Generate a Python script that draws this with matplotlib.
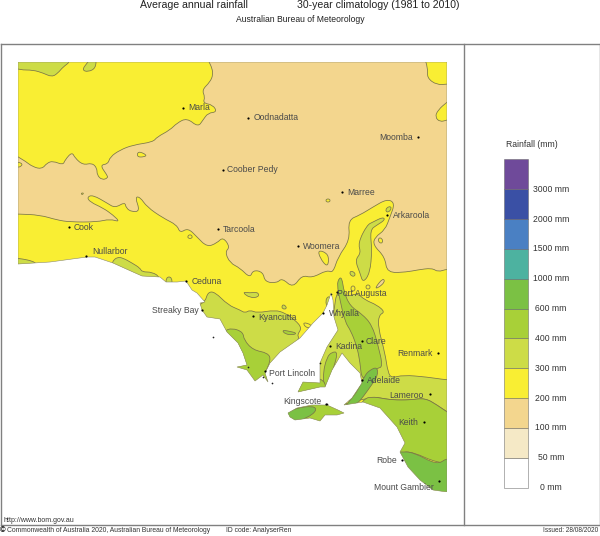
import matplotlib
matplotlib.use("Agg")
import matplotlib.pyplot as plt
from matplotlib.lines import Line2D
from matplotlib.patches import PathPatch
from matplotlib.path import Path

plt.rcParams['font.family'] = ['Liberation Sans', 'DejaVu Sans']

W, H = 600, 536

# Rainfall classes, bottom to top of the legend
class_labels = ['0 mm', '50 mm', '100 mm', '200 mm', '300 mm', '400 mm',
                '600 mm', '1000 mm', '1500 mm', '2000 mm', '3000 mm']
class_colors = ['#ffffff', '#f5e9c6', '#f3d68e', '#f9ee33', '#cddc47', '#a8d038',
                '#7bc144', '#4db2a0', '#4a80c3', '#3a50a5', '#6f4a9a']
TAN, YELLOW, LIGHT, MEDIUM, DARK = class_colors[2:7]

# Outlines below are map grid positions (x east, y south)
mainland = [(18, 264), (50, 262), (87, 257), (95, 257), (113, 263), (133, 272), (142, 276),
            (160, 277), (166, 282), (177, 282), (186, 281), (192, 290), (197, 293), (205, 302),
            (200, 303), (202, 310), (207, 317), (220, 319), (227, 332), (238, 343), (243, 353),
            (247, 365), (237, 367), (247, 370), (255, 381), (263, 375), (268, 382), (265, 373),
            (270, 363), (280, 352), (300, 338), (313, 323), (323, 313), (327, 305), (331, 293),
            (333, 300), (334, 317), (338, 330), (327, 347), (320, 363), (320, 383), (303, 382),
            (298, 392), (320, 387), (325, 387), (332, 370), (342, 353), (350, 363), (360, 373),
            (362, 383), (352, 398), (344, 405), (363, 402), (380, 408), (397, 427), (405, 443),
            (400, 452), (408, 467), (420, 480), (433, 490), (447, 492), (447, 62), (18, 62)]
kangaroo_island = [(288, 413), (297, 408), (312, 405), (327, 405), (338, 410), (344, 413),
                   (337, 415), (325, 415), (320, 421), (310, 418), (295, 420), (290, 417)]
speck_x = [213, 272, 263, 248, 331, 320, 327]
speck_y = [337, 383, 377, 367, 294, 363, 404]

# Contours run past the map edge where they leave it, the land clips them
tan_main = [(205, 52), (209, 62), (212, 68), (213, 75), (210, 82), (202, 90), (205, 97), (203, 103),
            (213, 105), (217, 112), (208, 113), (203, 120), (198, 127), (187, 118), (177, 123),
            (170, 130), (157, 137), (153, 142), (133, 145), (120, 150), (110, 157), (108, 164),
            (100, 165), (107, 175), (108, 178), (102, 180), (97, 175), (97, 168), (92, 163),
            (83, 165), (75, 158), (72, 152), (65, 160), (63, 165), (53, 161), (47, 163),
            (42, 169), (33, 167), (25, 161), (18, 157), (8, 150), (8, 214), (18, 214), (40, 215), (57, 220),
            (70, 222), (97, 222), (110, 219), (120, 222), (113, 215), (103, 208), (90, 202),
            (87, 197), (93, 195), (107, 203), (115, 208), (125, 202), (126, 208), (132, 212),
            (140, 211), (135, 197), (140, 197), (147, 207), (163, 218), (177, 225), (180, 233),
            (188, 228), (197, 237), (207, 247), (217, 243), (223, 237), (230, 247), (225, 252),
            (230, 263), (240, 268), (250, 278), (253, 270), (263, 272), (265, 282), (277, 283),
            (282, 278), (293, 288), (302, 275), (312, 278), (327, 270), (333, 273), (338, 257),
            (350, 240), (348, 220), (360, 215), (373, 207), (387, 199), (395, 203), (390, 217),
            (385, 230), (375, 237), (373, 245), (385, 257), (387, 273), (407, 272), (417, 270),
            (432, 268), (438, 272), (447, 269), (458, 269), (458, 56), (458, 52), (452, 52), (300, 52)]
tan_patch = [(375, 288), (383, 278), (385, 282), (378, 288)]

yellow_ne = [(423, 54), (428, 68), (427, 78), (437, 85), (447, 84), (458, 84), (458, 54)]
yellow_east = [(456, 96), (447, 102), (438, 110), (435, 117), (440, 122), (447, 120), (456, 118)]
yellow_a = [(137, 157), (138, 151), (147, 155), (144, 157)]
yellow_b = [(10, 162), (18, 162), (23, 164), (20, 167), (18, 167), (10, 168)]
yellow_c = [(81, 193), (84, 193), (82, 195)]
yellow_d = [(187, 237), (190, 234), (193, 237), (190, 239)]
yellow_e = [(318, 250), (327, 253), (329, 260), (327, 267), (320, 258)]
yellow_f = [(326, 199), (330, 199), (330, 202), (326, 202)]
yellow_g = [(378, 238), (382, 238), (383, 243), (379, 243)]

light_nw = [(8, 52), (72, 52), (70, 62), (63, 67), (58, 73), (52, 77), (43, 73), (33, 70), (20, 70), (8, 66)]
light_n = [(82, 70), (87, 63), (93, 56), (96, 56), (96, 68), (88, 72)]
light_bight = [(112, 262), (117, 257), (123, 258), (132, 263), (140, 268), (142, 272), (152, 272),
               (160, 277), (160, 288), (110, 272)]
light_w = [(8, 258), (18, 258), (37, 262), (37, 270), (8, 270)]
light_ceduna = [(166, 277), (172, 277), (172, 287), (166, 287)]
light_eyre = [(205, 302), (208, 292), (215, 292), (228, 305), (240, 310), (245, 313), (250, 310),
              (257, 313), (275, 310), (285, 313), (295, 320), (302, 328), (297, 335), (300, 339),
              (270, 385), (200, 340), (198, 305)]
light_lens = [(242, 292), (250, 293), (258, 292), (259, 297), (250, 298)]
light_spot = [(282, 305), (285, 305), (287, 309), (282, 309)]
light_gulf_w = [(325, 300), (330, 295), (332, 307), (328, 310)]
light_flinders = [(373, 222), (383, 217), (385, 220), (377, 225), (370, 230), (372, 250), (370, 273),
                  (363, 283), (360, 273), (355, 260), (361, 253), (358, 243), (367, 225)]
light_arkaroola = [(385, 210), (389, 206), (392, 208), (388, 213)]
light_circle = [(349, 272), (353, 271), (356, 275), (352, 277)]
light_south = [(337, 290), (347, 297), (357, 293), (365, 300), (377, 305), (385, 312), (379, 315),
               (378, 327), (385, 353), (388, 373), (392, 378), (403, 375), (427, 377), (447, 380), (458, 380),
               (458, 418), (447, 412), (437, 405), (425, 398), (410, 400), (393, 400), (380, 398), (375, 397),
               (350, 402), (340, 398), (293, 396), (295, 380), (318, 350), (332, 325), (334, 310)]

yellow_hole = [(303, 322), (312, 325), (310, 328), (305, 327)]
yellow_circle = [(351, 286), (355, 286), (355, 291), (351, 291)]
yellow_circle2 = [(366, 285), (370, 285), (370, 289), (366, 289)]

medium_lens = [(282, 330), (288, 331), (297, 333), (293, 335), (285, 334)]
medium_eyre = [(224, 331), (232, 328), (243, 332), (244, 340), (253, 350), (268, 353), (271, 360),
               (264, 375), (275, 395), (245, 392), (225, 365), (215, 345)]
medium_north = [(339, 278), (342, 278), (344, 292), (350, 306), (362, 314), (372, 325), (378, 345),
                (383, 367), (377, 368), (362, 382), (360, 362), (357, 347), (351, 331), (345, 322),
                (340, 300), (337, 285)]
medium_yorke = [(323, 373), (327, 357), (332, 352), (338, 352), (333, 370), (328, 385), (324, 386)]
medium_foot = [(285, 396), (300, 376), (322, 378), (327, 388), (320, 398)]
medium_se = [(363, 398), (375, 397), (380, 398), (393, 400), (410, 400), (425, 398), (437, 405),
             (447, 412), (458, 418), (458, 463), (437, 463), (413, 452), (400, 452), (392, 475), (350, 425)]
medium_ki = [(280, 400), (345, 398), (352, 414), (325, 428), (285, 428)]

dark_hills = [(377, 367), (378, 375), (373, 383), (363, 397), (357, 404), (342, 410), (352, 398),
              (358, 390), (365, 375), (370, 370)]
dark_se = [(392, 452), (400, 452), (413, 452), (437, 465), (447, 458), (458, 458), (458, 505), (415, 505), (380, 455)]
dark_ki = [(280, 414), (297, 408), (312, 406), (317, 409), (312, 415), (303, 419), (295, 426), (282, 424)]

# Painted in order, later shapes lie over earlier ones
layers = [
    (TAN, [tan_main, tan_patch]),
    (YELLOW, [yellow_ne, yellow_east, yellow_a, yellow_b, yellow_c, yellow_d, yellow_e, yellow_f, yellow_g]),
    (LIGHT, [light_nw, light_n, light_bight, light_w, light_ceduna, light_eyre, light_lens, light_spot,
             light_gulf_w, light_flinders, light_arkaroola, light_circle, light_south]),
    (YELLOW, [yellow_hole, yellow_circle, yellow_circle2]),
    (MEDIUM, [medium_lens, medium_eyre, medium_north, medium_yorke, medium_foot, medium_se, medium_ki]),
    (DARK, [dark_hills, dark_se, dark_ki]),
]

# Towns
town_names = ['Marla', 'Oodnadatta', 'Moomba', 'Coober Pedy', 'Marree', 'Arkaroola', 'Tarcoola',
              'Woomera', 'Cook', 'Nullarbor', 'Ceduna', 'Streaky Bay', 'Kyancutta', 'Port Lincoln',
              'Kingscote', 'Port Augusta', 'Whyalla', 'Kadina', 'Clare', 'Adelaide', 'Renmark',
              'Lameroo', 'Keith', 'Robe', 'Mount Gambier']
town_x = [183, 248, 418, 223, 342, 387, 218, 298, 69, 86, 186, 202, 253, 265, 326, 337, 323, 330,
          362, 362, 438, 430, 424, 402, 439]
town_y = [108, 118, 137, 170, 192, 215, 229, 246, 227, 256, 281, 310, 316, 371, 404, 292, 313, 346,
          341, 380, 353, 394, 422, 460, 481]
label_x = [188, 254, 413, 227, 347, 393, 223, 303, 74, 92, 192, 199, 258, 269, 322, 337, 329, 335,
           366, 367, 433, 424, 418, 397, 434]
label_y = [108, 118, 137, 170, 192, 215, 229, 246, 227, 251, 281, 310, 317, 373, 401, 293, 313, 346,
           341, 380, 353, 395, 422, 460, 487]
label_right = {'Moomba', 'Streaky Bay', 'Kingscote', 'Renmark', 'Lameroo', 'Keith', 'Robe', 'Mount Gambier'}


def contour_path(shape):
    # Rounded closed outline through the midpoints, the vertices act as control points
    mids = [((a[0] + b[0]) / 2, (a[1] + b[1]) / 2) for a, b in zip(shape, shape[1:] + shape[:1])]
    verts = [mids[-1]]
    codes = [Path.MOVETO]
    for p, m in zip(shape, mids):
        verts += [p, m]
        codes += [Path.CURVE3, Path.CURVE3]
    return Path(verts, codes)


fig = plt.figure(figsize=(W / 100, H / 100), dpi=100, facecolor='white')

ax = fig.add_axes([18 / W, 1 - 492 / H, 429 / W, 430 / H])
ax.set_xlim(18, 447)
ax.set_ylim(492, 62)
ax.axis('off')

land_path = Path.make_compound_path(Path(mainland + mainland[:1], closed=True),
                                    Path(kangaroo_island + kangaroo_island[:1], closed=True))
land = PathPatch(land_path, facecolor=YELLOW, edgecolor='none', zorder=1)
ax.add_patch(land)

z = 2
for color, shapes in layers:
    for shape in shapes:
        part = PathPatch(contour_path(shape), facecolor=color, edgecolor='#7a7548', lw=0.55, zorder=z)
        ax.add_patch(part)
        part.set_clip_path(land)
    z += 1

# Thin coast line over the fills
ax.add_patch(PathPatch(land_path, facecolor='none', edgecolor='#8a8a70', lw=0.4, zorder=9))
ax.scatter(speck_x, speck_y, s=1.5, color='#222222', lw=0, zorder=9)

ax.scatter(town_x, town_y, s=2.5, color='black', lw=0, zorder=10)
for name, lx, ly in zip(town_names, label_x, label_y):
    ax.text(lx, ly, name, fontsize=6.2, color='#4a4a4a', va='center',
            ha='right' if name in label_right else 'left', zorder=11)

# Legend
lax = fig.add_axes([503.5 / W, 1 - 487.5 / H, 24 / W, 328 / H])
bars = lax.bar([0] * len(class_colors), [1] * len(class_colors), bottom=range(len(class_colors)), width=1,
               color=class_colors, edgecolor='#66666699', lw=0.6)
for b in bars:
    b.set_clip_on(False)
lax.set_xlim(-0.5, 0.5)
lax.set_ylim(0, len(class_colors))
lax.axis('off')
for i, lab in enumerate(class_labels):
    lax.text(1.48, i, lab, fontsize=6.2, color='#333333', ha='center', va='center', clip_on=False)

# Page frame
frame_lines = [((0.5, 599.5), (44, 44)), ((0.5, 599.5), (525, 525)), ((0.5, 0.5), (44, 525)),
               ((463.5, 463.5), (44, 525)), ((599.5, 599.5), (44, 525))]
for xs, ys in frame_lines:
    fig.add_artist(Line2D([x / W for x in xs], [1 - y / H for y in ys], color='#808080', lw=1))


def put(x, y, s, **kw):
    fig.text(x / W, 1 - y / H, s, va='center', **kw)


put(140, 5, 'Average annual rainfall', fontsize=7.6, color='#222222')
put(297, 5, '30-year climatology (1981 to 2010)', fontsize=7.6, color='#222222')
put(236, 20, 'Australian Bureau of Meteorology', fontsize=6.2, color='#222222')
put(532, 145, 'Rainfall (mm)', fontsize=6.2, color='#333333', ha='center')
put(4, 520, 'http://www.bom.gov.au', fontsize=5.0, color='#333333')
put(0, 531, '\u00a9', fontsize=5.5, fontweight='bold', color='black')
put(7, 531, 'Commonwealth of Australia 2020, Australian Bureau of Meteorology', fontsize=4.85, color='#333333')
put(226, 531, 'ID code: AnalyserRen', fontsize=4.85, color='#333333')
put(598.5, 531, 'Issued: 28/08/2020', fontsize=4.7, color='#333333', ha='right')

fig.savefig('out.png', dpi=100)
